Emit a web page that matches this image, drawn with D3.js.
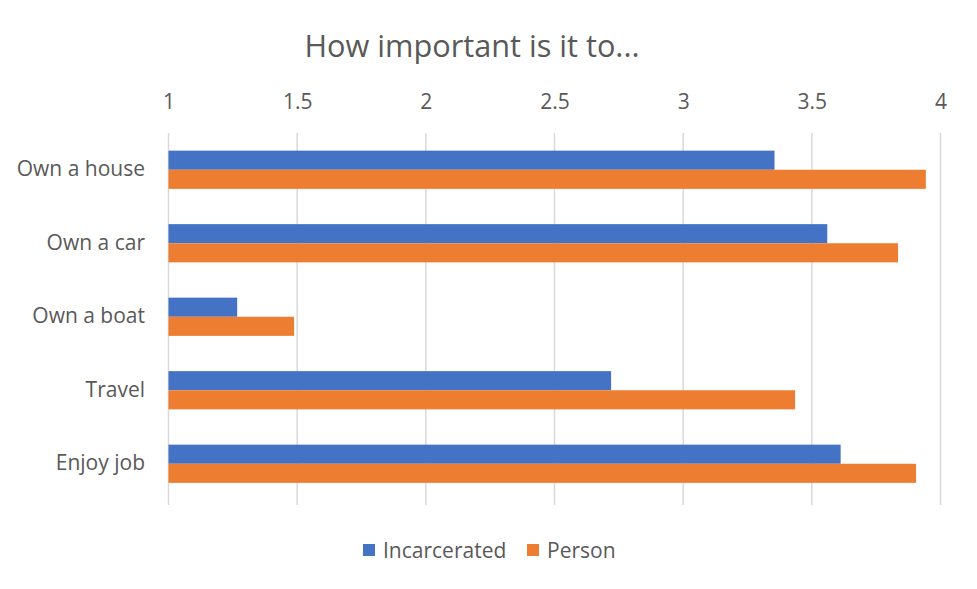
<!doctype html>
<html>
<head>
    <meta charset="UTF-8">
    <title>How important is it to...</title>
    <script src="https://d3js.org/d3.v7.min.js"></script>
    <style>
        body { margin: 0; background: #fff; }
        text { font-family: "Open Sans", "Noto Sans", sans-serif; fill: #595959; }
    </style>
</head>
<body>
    <script>
        var width = 977;
        var height = 589;

        // data
        var categories = ["Own a house", "Own a car", "Own a boat", "Travel", "Enjoy job"];
        var seriesNames = ["Incarcerated", "Person"];
        var incarcerated = [3.355, 3.56, 1.267, 2.72, 3.612];
        var person = [3.943, 3.835, 1.488, 3.435, 3.905];
        var tickValues = [1, 1.5, 2, 2.5, 3, 3.5, 4];
        var colors = ["#4472C4", "#ED7D31"];

        var margin = { top: 133, left: 168.5, right: 36.5, bottom: 88 };

        var svg = d3.select("body").append("svg")
            .attr("width", width)
            .attr("height", height);

        var x = d3.scaleLinear()
            .domain([1, 4])
            .range([margin.left, width - margin.right]);

        var y = d3.scaleBand()
            .domain(categories)
            .range([margin.top, 500.5])
            .paddingInner(0.48)
            .paddingOuter(0.24);

        var ySub = d3.scaleBand()
            .domain(seriesNames)
            .range([0, y.bandwidth()]);

        // title
        svg.append("text")
            .attr("x", 472)
            .attr("y", 57)
            .attr("text-anchor", "middle")
            .style("font-size", "30.7px")
            .text("How important is it to...");

        // gridlines
        svg.append("g")
            .selectAll("line")
            .data(tickValues)
            .enter().append("line")
            .attr("x1", function (d) { return x(d); })
            .attr("x2", function (d) { return x(d); })
            .attr("y1", margin.top)
            .attr("y2", 505)
            .style("stroke", "#d9d9d9")
            .style("stroke-width", 1.5);

        // top axis labels
        var xAxis = d3.axisTop(x)
            .tickValues(tickValues)
            .tickSize(0)
            .tickFormat(function (d) { return d; });

        var gx = svg.append("g")
            .attr("transform", "translate(0,109)")
            .call(xAxis);
        gx.select(".domain").remove();
        gx.selectAll("text")
            .attr("dy", 0)
            .attr("y", 0)
            .style("font-size", "21px")
            .style("font-family", null);

        // category labels
        var yAxis = d3.axisLeft(y).tickSize(0);
        var gy = svg.append("g")
            .attr("transform", "translate(145,0)")
            .call(yAxis);
        gy.select(".domain").remove();
        gy.selectAll("text")
            .attr("x", 0)
            .style("font-size", "21px")
            .style("font-family", null);

        // bars
        var rows = categories.map(function (c, i) {
            return { cat: c, values: [incarcerated[i], person[i]] };
        });

        var groups = svg.append("g")
            .selectAll("g")
            .data(rows)
            .enter().append("g")
            .attr("transform", function (d) { return "translate(0," + y(d.cat) + ")"; });

        groups.selectAll("rect")
            .data(function (d) {
                return d.values.map(function (v, j) { return { name: seriesNames[j], value: v, j: j }; });
            })
            .enter().append("rect")
            .attr("x", x(1))
            .attr("y", function (d) { return ySub(d.name); })
            .attr("width", function (d) { return x(d.value) - x(1); })
            .attr("height", ySub.bandwidth())
            .style("fill", function (d) { return colors[d.j]; });

        // legend
        var legendX = [363, 527];
        var legend = svg.append("g")
            .selectAll("g")
            .data(seriesNames)
            .enter().append("g")
            .attr("transform", function (d, i) { return "translate(" + legendX[i] + ",544)"; });

        legend.append("rect")
            .attr("width", 12)
            .attr("height", 12)
            .style("fill", function (d, i) { return colors[i]; });

        legend.append("text")
            .attr("x", 20)
            .attr("y", 14)
            .style("font-size", "21px")
            .text(function (d) { return d; });
    </script>
</body>
</html>
